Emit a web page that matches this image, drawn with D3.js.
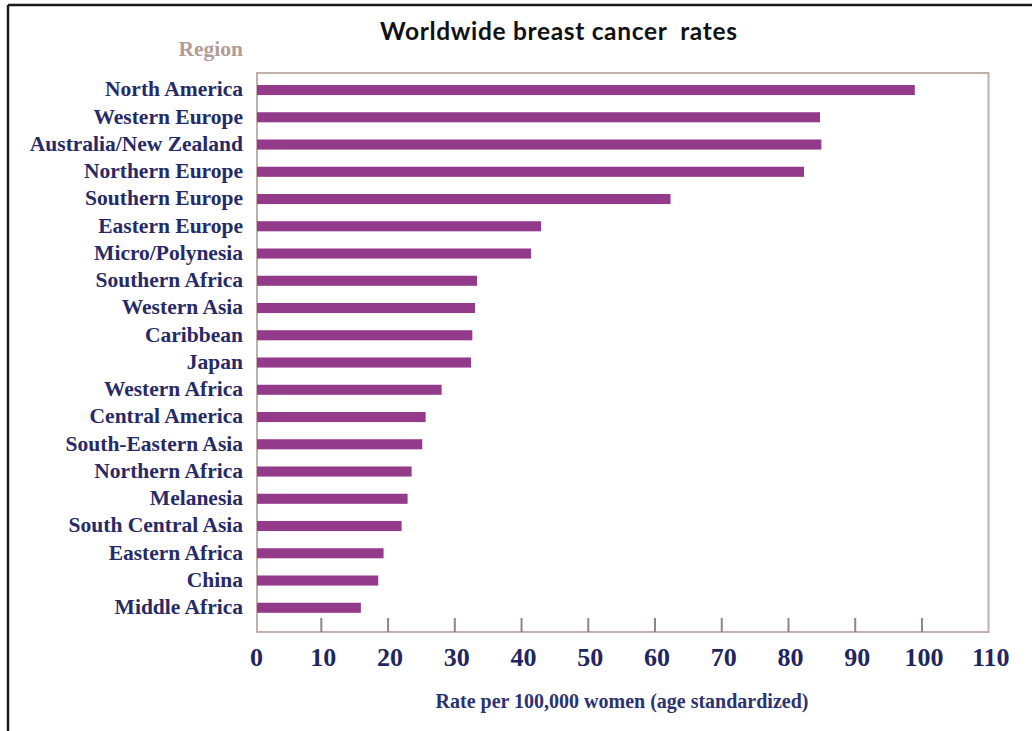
<!DOCTYPE html>
<html>
<head>
<meta charset="utf-8">
<script src="https://cdn.jsdelivr.net/npm/d3@7"></script>
<style>
  html, body { margin: 0; padding: 0; background: #fff; }
  svg { display: block; }
</style>
</head>
<body>
<svg id="chart" width="1032" height="731"></svg>
<script>
// Age-standardized breast cancer incidence by world region
const regions = [
  "North America", "Western Europe", "Australia/New Zealand", "Northern Europe",
  "Southern Europe", "Eastern Europe", "Micro/Polynesia", "Southern Africa",
  "Western Asia", "Caribbean", "Japan", "Western Africa", "Central America",
  "South-Eastern Asia", "Northern Africa", "Melanesia", "South Central Asia",
  "Eastern Africa", "China", "Middle Africa"
];
const rates = [
  99.0, 84.8, 85.0, 82.4,
  62.4, 43.0, 41.5, 33.4,
  33.1, 32.7, 32.5, 28.1, 25.7,
  25.2, 23.6, 23.0, 22.1,
  19.4, 18.6, 16.0
];
const xTicks = [0, 10, 20, 30, 40, 50, 60, 70, 80, 90, 100, 110];

const titleText = "Worldwide breast cancer  rates";
const yTitle = "Region";
const xTitle = "Rate per 100,000 women (age standardized)";

const serif = "'Liberation Serif', 'Times New Roman', serif";
const svg = d3.select("#chart");

const frame = { left: 257, right: 988.5, top: 73, bottom: 632 };

const x = d3.scaleLinear().domain([0, 110]).range([254.1, 988.2]);
const y = d3.scaleBand()
  .domain(regions)
  .range([76.4, 621.4])
  .paddingInner(0.63)
  .paddingOuter(0.315);

// outer slide border (top and left)
svg.append("line").attr("x1", 8).attr("x2", 1032).attr("y1", 5).attr("y2", 5)
  .attr("stroke", "#1a1a1a").attr("stroke-width", 2.5);
svg.append("line").attr("x1", 8).attr("x2", 8).attr("y1", 5).attr("y2", 731)
  .attr("stroke", "#1a1a1a").attr("stroke-width", 2.5);

// title
svg.append("text")
  .attr("x", 380).attr("y", 40)
  .attr("font-family", "Lato, 'Open Sans', sans-serif")
  .attr("font-weight", "bold")
  .attr("font-size", 24.5)
  .attr("textLength", 357)
  .attr("lengthAdjust", "spacing")
  .attr("fill", "#111")
  .style("white-space", "pre")
  .text(titleText);

// plot frame
svg.append("rect")
  .attr("x", frame.left).attr("y", frame.top)
  .attr("width", frame.right - frame.left)
  .attr("height", frame.bottom - frame.top)
  .attr("fill", "none")
  .attr("stroke", "#c2b0ac")
  .attr("stroke-width", 2);

// bars
svg.append("g").selectAll("rect")
  .data(regions.map((r, i) => ({ region: r, rate: rates[i] })))
  .join("rect")
  .attr("x", frame.left)
  .attr("y", d => y(d.region))
  .attr("width", d => x(d.rate) - frame.left)
  .attr("height", y.bandwidth())
  .attr("fill", "#933a8b");

// category labels
svg.append("g").selectAll("text")
  .data(regions)
  .join("text")
  .attr("x", 243)
  .attr("y", d => y(d) + y.bandwidth() / 2)
  .attr("dy", "0.3em")
  .attr("text-anchor", "end")
  .attr("font-family", serif)
  .attr("font-weight", "bold")
  .attr("font-size", 21.5)
  .attr("fill", "#262a66")
  .text(d => d);

// y-axis heading
svg.append("text")
  .attr("x", 243).attr("y", 56)
  .attr("text-anchor", "end")
  .attr("font-family", serif)
  .attr("font-weight", "bold")
  .attr("font-size", 21.5)
  .attr("fill", "#b39c94")
  .text(yTitle);

// x axis: inward ticks and labels
const xAxis = d3.axisBottom(x)
  .tickValues(xTicks)
  .tickSize(0)
  .tickFormat(d3.format("d"));
const gx = svg.append("g")
  .attr("transform", `translate(0,${frame.bottom})`)
  .call(xAxis);
gx.select(".domain").remove();
gx.selectAll(".tick text")
  .attr("dx", 2)
  .attr("y", 16)
  .attr("font-family", serif)
  .attr("font-weight", "bold")
  .attr("font-size", 26)
  .attr("fill", "#222660");
gx.selectAll(".tick")
  .filter(d => d > 0 && d < 110)
  .append("line")
  .attr("y1", 0).attr("y2", -14)
  .attr("stroke", "#8f8585")
  .attr("stroke-width", 2);

// x-axis title
svg.append("text")
  .attr("x", 622).attr("y", 708)
  .attr("text-anchor", "middle")
  .attr("font-family", serif)
  .attr("font-weight", "bold")
  .attr("font-size", 20)
  .attr("fill", "#2d3270")
  .text(xTitle);
</script>
</body>
</html>
